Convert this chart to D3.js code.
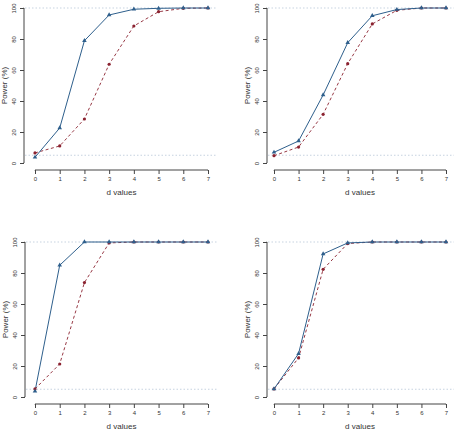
<!DOCTYPE html>
<html><head><meta charset="utf-8">
<script src="https://cdn.jsdelivr.net/npm/d3@7"></script>
<style>body{margin:0;background:#fff}svg{display:block}text{font-family:"Liberation Sans",Arial,sans-serif;fill:#333}</style>
</head><body>
<script>
const dValues = [0,1,2,3,4,5,6,7];
const yTicks = [0,20,40,60,80,100];
const refLines = [5,100];
const blue1 = [3.7,22.6,78.9,95.5,99.2,99.8,100,100];
const red1  = [6.5,11,28.4,63.7,88.4,97.6,99.8,100];
const blue2 = [6.9,14.2,43.9,77.6,95,99,100,100];
const red2  = [4.7,10.3,31.4,64.1,89.7,98.5,100,100];
const blue3 = [3.7,85,100,100,100,100,100,100];
const red3  = [5.2,21.3,73.8,99.4,100,100,100,100];
const blue4 = [5.2,28,92.3,99.4,100,100,100,100];
const red4  = [5.2,25.2,82.4,99,100,100,100,100];

const W=454,H=431;
const svg=d3.select("body").append("svg").attr("width",W).attr("height",H);
const panels=[
  {blue:blue1,red:red1,ax:24,x0:35,x1:208,top:8,bot:163,right:217},
  {blue:blue2,red:red2,ax:267,x0:274,x1:446,top:8,bot:163,right:454},
  {blue:blue3,red:red3,ax:25,x0:35,x1:208,top:242,bot:397,right:217},
  {blue:blue4,red:red4,ax:267,x0:274,x1:446,top:242,bot:397,right:454}
];
const BLUE="#2e5f8c", RED="#8b2230", REF="#b9c8d8";
panels.forEach(p=>{
  const g=svg.append("g");
  const x=d3.scaleLinear().domain([0,7]).range([p.x0,p.x1]);
  const y=d3.scaleLinear().domain([0,100]).range([p.bot,p.top]);
  // reference lines
  g.selectAll(".ref").data(refLines).enter().append("line")
    .attr("x1",p.ax+1).attr("x2",p.right).attr("y1",d=>y(d)).attr("y2",d=>y(d))
    .attr("stroke",REF).attr("stroke-width",0.8).attr("stroke-dasharray","1.5,2");
  // y axis
  const ya=g.append("g").attr("transform",`translate(${p.ax},0)`)
    .call(d3.axisLeft(y).tickValues(yTicks).tickSize(4).tickPadding(3));
  ya.select(".domain").attr("d",`M-0.5,${y(0)}H0V${y(100)}H-0.5`).attr("stroke","#444");
  ya.selectAll(".tick line").attr("stroke","#444");
  ya.selectAll(".tick text").attr("font-size",6).attr("fill","#444")
    .attr("transform","rotate(-90)").attr("x",0).attr("y",-10)
    .attr("text-anchor","middle").attr("dy","0");
  ya.selectAll(".tick text").each(function(d){d3.select(this).attr("transform",`translate(-8,0) rotate(-90)`).attr("x",0).attr("y",0).attr("dy","0")});
  // x axis
  const xa=g.append("g").attr("transform",`translate(0,${p.bot+7})`)
    .call(d3.axisBottom(x).tickValues(dValues).tickSize(4).tickPadding(3).tickFormat(d3.format("d")));
  xa.select(".domain").attr("d",`M${x(0)},0.5V0H${x(7)}V0.5`).attr("stroke","#444");
  xa.selectAll(".tick line").attr("stroke","#444");
  xa.selectAll(".tick text").attr("font-size",6).attr("fill","#444");
  // labels
  g.append("text").attr("x",(p.x0+p.x1)/2).attr("y",p.bot+32).attr("text-anchor","middle")
    .attr("font-size",8).text("d values");
  g.append("text").attr("transform",`translate(${p.ax-17},${(p.top+p.bot)/2}) rotate(-90)`)
    .attr("text-anchor","middle").attr("font-size",8).text("Power (%)");
  const line=d3.line().x((d,i)=>x(dValues[i])).y(d=>y(d));
  g.append("path").datum(p.red).attr("d",line).attr("fill","none").attr("stroke",RED)
    .attr("stroke-width",0.9).attr("stroke-dasharray","3,2.5");
  g.append("path").datum(p.blue).attr("d",line).attr("fill","none").attr("stroke",BLUE)
    .attr("stroke-width",1);
  g.selectAll(".rc").data(p.red).enter().append("circle")
    .attr("cx",(d,i)=>x(dValues[i])).attr("cy",d=>y(d)).attr("r",1.6).attr("fill",RED);
  const tri=d3.symbol().type(d3.symbolTriangle).size(9);
  g.selectAll(".bt").data(p.blue).enter().append("path")
    .attr("transform",(d,i)=>`translate(${x(dValues[i])},${y(d)})`).attr("d",tri).attr("fill",BLUE);
});
</script>
</body></html>
